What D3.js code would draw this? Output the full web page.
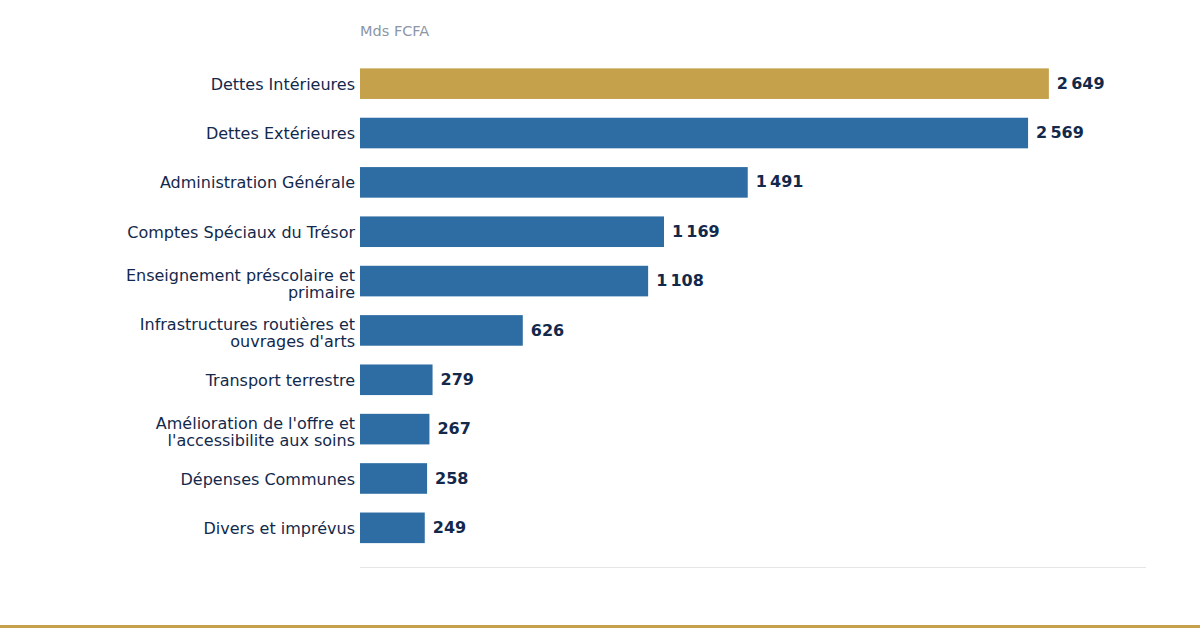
<!DOCTYPE html>
<html>
<head>
<meta charset="utf-8">
<script src="https://cdn.jsdelivr.net/npm/d3@7"></script>
<style>
  body { margin: 0; background: #fff; }
  svg { display: block; font-family: "DejaVu Sans", sans-serif; }
</style>
</head>
<body>
<div id="chart"></div>
<script>
var categories = [
    ["Dettes Intérieures"],
    ["Dettes Extérieures"],
    ["Administration Générale"],
    ["Comptes Spéciaux du Trésor"],
    ["Enseignement préscolaire et", "primaire"],
    ["Infrastructures routières et", "ouvrages d'arts"],
    ["Transport terrestre"],
    ["Amélioration de l'offre et", "l'accessibilite aux soins"],
    ["Dépenses Communes"],
    ["Divers et imprévus"]
];
var values = [2649, 2569, 1491, 1169, 1108, 626, 279, 267, 258, 249];
var highlight = [true, false, false, false, false, false, false, false, false, false];
var unitLabel = "Mds FCFA";

function init () 
{
    var w = 1200;
    var h = 630;

    var svg = d3.select("#chart")
            .append("svg")
            .attr("width", w)
            .attr("height", h);

    var x = d3.scaleLinear()
        .domain([0, d3.max(values) * 1.141])
        .range([360, 1146]);

    var y = d3.scaleBand()
        .domain(d3.range(values.length))
        .range([59, 552.5])
        .paddingInner(0.38)
        .paddingOuter(0.19);

    // thin number format with narrow space
    var fmt = function(v){
        return d3.format(",")(v).replace(/,/g, "\u202F");
    };

    svg.append("text")
        .attr("x", 360)
        .attr("y", 36)
        .attr("fill", "#8c96a8")
        .style("font-size", "14.5px")
        .text(unitLabel);

    svg.selectAll("rect.bar")
        .data(values)
        .enter()
        .append("rect")
        .attr("class", "bar")
        .attr("x", x(0))
        .attr("y", function(d, i){ return y(i); })
        .attr("width", function(d){ return x(d) - x(0); })
        .attr("height", y.bandwidth())
        .attr("fill", function(d, i){
            return highlight[i] ? "#c5a14b" : "#2e6da3";
        });

    svg.selectAll("text.val")
        .data(values)
        .enter()
        .append("text")
        .attr("class", "val")
        .attr("x", function(d){ return x(d) + 8; })
        .attr("y", function(d, i){ return y(i) + y.bandwidth() / 2 - 0.5; })
        .attr("dy", "0.35em")
        .attr("fill", "#13294b")
        .style("font-size", "16px")
        .style("font-weight", "bold")
        .text(function(d){ return fmt(d); });

    var labels = svg.selectAll("text.cat")
        .data(categories)
        .enter()
        .append("text")
        .attr("class", "cat")
        .attr("text-anchor", "end")
        .attr("fill", "#13294b")
        .style("font-size", "16px")
        .attr("transform", function(d, i){
            var off = d.length > 1 ? 2.5 : 0.5;
            return "translate(355," + (y(i) + y.bandwidth() / 2 + off) + ")";
        });

    labels.selectAll("tspan")
        .data(function(d){ return d; })
        .enter()
        .append("tspan")
        .attr("x", 0)
        .attr("y", function(d, j, nodes){
            var n = nodes.length;
            return (j - (n - 1) / 2) * 17;
        })
        .attr("dy", "0.35em")
        .text(function(d){ return d; });

    // baseline
    svg.append("line")
        .attr("x1", 360)
        .attr("x2", 1146)
        .attr("y1", 567.5)
        .attr("y2", 567.5)
        .attr("stroke", "#e6e6e6")
        .attr("stroke-width", 1);

    // gold footer rule
    svg.append("line")
        .attr("x1", 0)
        .attr("x2", w)
        .attr("y1", 626.5)
        .attr("y2", 626.5)
        .attr("stroke", "#c5a14b")
        .attr("stroke-width", 3);
}

window.onload = init;
</script>
</body>
</html>
